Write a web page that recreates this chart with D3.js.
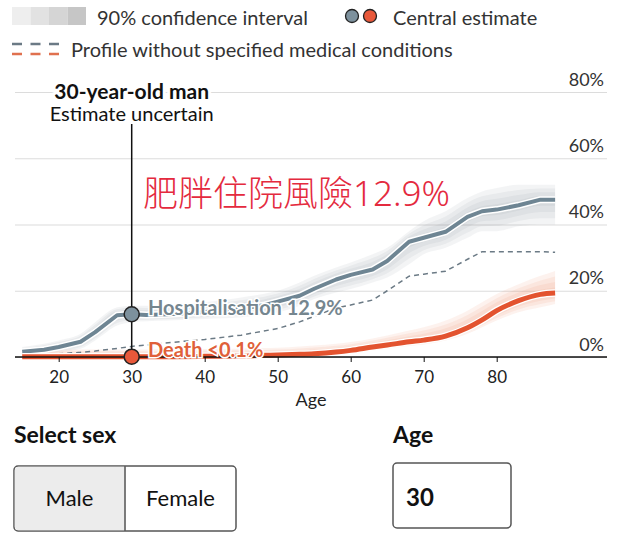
<!DOCTYPE html>
<html>
<head>
<meta charset="utf-8">
<script src="https://cdn.jsdelivr.net/npm/d3@7/dist/d3.min.js"></script>
<style>
  html, body { margin: 0; padding: 0; background: #fff; }
  svg { display: block; font-family: Lato, "Noto Sans", sans-serif; }
</style>
</head>
<body>
<svg id="chart" width="640" height="550"></svg>
<script>
// ---- data ----
const ages      = [15, 18, 20, 23, 25, 28, 30, 32, 35, 40, 45, 48, 50, 53, 55, 58, 60, 63, 65, 68, 70, 73, 76, 78, 80, 83, 86, 88];
const hosp      = [1.6, 2.2, 3.0, 4.6, 7.5, 12.6, 12.9, 12.7, 12.9, 13.6, 14.6, 15.6, 16.7, 18.5, 20.6, 23.4, 24.8, 26.4, 29.0, 34.8, 36.0, 37.8, 42.3, 44.0, 44.5, 45.8, 47.5, 47.5];
const hospLow   = [0.5, 1.0, 1.5, 2.5, 5.0, 9.5, 10.5, 10.8, 11.0, 11.5, 12.0, 12.8, 13.5, 15.5, 17.5, 19.5, 20.5, 22.5, 24.0, 28.0, 31.0, 33.0, 36.0, 38.0, 38.0, 39.5, 40.0, 40.0];
const hospHigh  = [3.0, 4.0, 5.0, 7.0, 10.5, 15.0, 15.5, 15.5, 15.5, 16.5, 18.0, 19.0, 20.0, 22.5, 24.5, 27.0, 28.5, 31.0, 33.0, 38.0, 41.0, 44.0, 48.0, 50.0, 51.0, 52.0, 52.0, 52.0];
const profile   = [0.8, 0.9, 1.0, 1.4, 1.8, 2.6, 3.2, 3.6, 4.3, 5.3, 6.6, 7.8, 8.6, 10.6, 12.3, 14.8, 15.7, 17.2, 20.0, 24.4, 25.0, 25.9, 29.5, 31.8, 31.8, 31.8, 31.8, 31.6];
const death     = [0.1, 0.1, 0.1, 0.1, 0.1, 0.1, 0.1, 0.1, 0.1, 0.2, 0.3, 0.5, 0.6, 0.8, 1.0, 1.5, 2.0, 3.0, 3.6, 4.6, 5.1, 6.3, 8.8, 11.2, 14.0, 17.0, 18.9, 19.3];
const deathLow  = [0, 0, 0, 0, 0, 0, 0, 0, 0, 0, 0.1, 0.2, 0.2, 0.4, 0.5, 0.9, 1.2, 2.0, 2.5, 3.3, 3.8, 5.0, 7.0, 9.0, 11.0, 13.5, 15.0, 16.0];
const deathHigh = [1.5, 2.0, 2.2, 2.3, 2.3, 2.3, 2.3, 2.3, 2.4, 2.4, 2.6, 2.7, 2.8, 3.2, 3.5, 4.0, 4.5, 5.6, 6.5, 8.0, 9.0, 11.0, 14.0, 16.5, 19.0, 22.0, 24.5, 26.0];
const xTicks = [20, 30, 40, 50, 60, 70, 80];
const yTicks = [0, 20, 40, 60, 80];
const selAge = 30;
const hospLabel = "Hospitalisation 12.9%";
const deathLabel = "Death <0.1%";
const headline = "肥胖住院風險12.9%";
const sexOptions = ["Male", "Female"];

// ---- layout ----
const svg = d3.select("#chart");
const left = 15, right = 607;
const x = d3.scaleLinear().domain([15, 88]).range([22.2, 555.1]);
const y = d3.scaleLinear().domain([0, 80]).range([357, 92]);

const GRAY = "#6e8593", ORANGE = "#e3532f";

// ---- legend ----
const leg = svg.append("g");
const legShades = ["#eeeeee", "#e2e2e2", "#d5d5d5", "#c6c6c6"];
leg.selectAll("rect.sh").data(legShades).join("rect")
  .attr("x", (d, i) => 12 + i * 18.5).attr("y", 7).attr("width", 18.5).attr("height", 18)
  .attr("fill", d => d);
leg.append("text").attr("x", 97).attr("y", 25).attr("font-size", 20).attr("fill", "#333")
  .text("90% confidence interval");
leg.append("circle").attr("cx", 352).attr("cy", 16).attr("r", 6.5).attr("fill", "#7d919d").attr("stroke", "#222").attr("stroke-width", 1.3);
leg.append("circle").attr("cx", 370).attr("cy", 16).attr("r", 6.5).attr("fill", "#e8583a").attr("stroke", "#222").attr("stroke-width", 1.3);
leg.append("text").attr("x", 393).attr("y", 25).attr("font-size", 20).attr("fill", "#333")
  .text("Central estimate");
[[44, "#6b7a85"], [54, "#e0714f"]].forEach(([yy, c]) => {
  leg.append("line").attr("x1", 12).attr("x2", 59).attr("y1", yy).attr("y2", yy)
    .attr("stroke", c).attr("stroke-width", 2.5).attr("stroke-dasharray", "10,8.5");
});
leg.append("text").attr("x", 71).attr("y", 57).attr("font-size", 20).attr("fill", "#333")
  .text("Profile without specified medical conditions");

// ---- grid + y labels ----
const gy = svg.append("g").attr("transform", `translate(${left},0)`)
  .call(d3.axisRight(y).tickValues(yTicks).tickSize(right - left).tickFormat(d => d + "%"));
gy.select(".domain").remove();
gy.selectAll(".tick line").attr("stroke", "#dcdcdc").attr("stroke-width", 1.2);
gy.selectAll(".tick text").attr("x", 604 - left).attr("dy", -7).attr("text-anchor", "end")
  .attr("font-size", 18).attr("fill", "#333").attr("font-family", "Lato, sans-serif");

// ---- bands ----
const data = ages.map((a, i) => ({a, h: hosp[i], hl: hospLow[i], hh: hospHigh[i], p: profile[i], d: death[i], dl: deathLow[i], dh: deathHigh[i]}));
const layers = [1, 0.75, 0.5, 0.25];
const bandG = svg.append("g");
layers.forEach(f => {
  bandG.append("path").datum(data)
    .attr("d", d3.area().curve(d3.curveMonotoneX).x(d => x(d.a))
      .y0(d => y(d.h + (d.hl - d.h) * f)).y1(d => y(d.h + (d.hh - d.h) * f)))
    .attr("fill", "#8595a0").attr("opacity", 0.1);
});
layers.forEach(f => {
  bandG.append("path").datum(data)
    .attr("d", d3.area().curve(d3.curveMonotoneX).x(d => x(d.a))
      .y0(d => y(d.d + (d.dl - d.d) * f)).y1(d => y(d.d + (d.dh - d.d) * f)))
    .attr("fill", "#ec8668").attr("opacity", 0.11);
});

// ---- profile dashed ----
svg.append("path").datum(data)
  .attr("d", d3.line().x(d => x(d.a)).y(d => y(d.p)))
  .attr("fill", "none").attr("stroke", "#6b7a85").attr("stroke-width", 1.5).attr("stroke-dasharray", "5,4");

// ---- central lines ----
const hLine = d3.line().x(d => x(d.a)).y(d => y(d.h));
svg.append("path").datum(data).attr("d", hLine).attr("fill", "none").attr("stroke", "#fff").attr("stroke-width", 7).attr("stroke-linejoin", "round");
svg.append("path").datum(data).attr("d", hLine).attr("fill", "none").attr("stroke", GRAY).attr("stroke-width", 4).attr("stroke-linejoin", "round");
const dLine = d3.line().curve(d3.curveMonotoneX).x(d => x(d.a)).y(d => y(d.d));
svg.append("path").datum(data).attr("d", dLine).attr("fill", "none").attr("stroke", "#fff").attr("stroke-width", 7.5);
svg.append("path").datum(data).attr("d", dLine).attr("fill", "none").attr("stroke", ORANGE).attr("stroke-width", 5);

// ---- x axis ----
svg.append("line").attr("x1", left).attr("x2", right).attr("y1", y(0)).attr("y2", y(0))
  .attr("stroke", "#111").attr("stroke-width", 1.5);
const gx = svg.append("g").attr("transform", `translate(0,${y(0)})`)
  .call(d3.axisBottom(x).tickValues(xTicks).tickSize(5).tickSizeOuter(0));
gx.select(".domain").remove();
gx.selectAll(".tick line").attr("stroke", "#111");
gx.selectAll(".tick text").attr("font-size", 17).attr("fill", "#222").attr("font-family", "Lato, sans-serif").attr("dy", "1.05em");
svg.append("text").attr("x", 311).attr("y", 406).attr("text-anchor", "middle").attr("font-size", 18).attr("fill", "#222").text("Age");

// ---- annotation ----
const i30 = ages.indexOf(selAge);
svg.append("line").attr("x1", x(selAge)).attr("x2", x(selAge)).attr("y1", 124).attr("y2", y(death[i30]))
  .attr("stroke", "#111").attr("stroke-width", 1.5);
svg.append("text").attr("x", x(selAge)).attr("y", 99).attr("text-anchor", "middle").attr("font-size", 21).attr("font-weight", 700)
  .attr("fill", "#111").attr("stroke", "#fff").attr("stroke-width", 6).attr("paint-order", "stroke").text("30-year-old man");
svg.append("text").attr("x", x(selAge)).attr("y", 121).attr("text-anchor", "middle").attr("font-size", 20)
  .attr("fill", "#111").text("Estimate uncertain");

svg.append("text").attr("x", 148).attr("y", 315).attr("font-size", 20).attr("font-weight", 700)
  .attr("fill", "#75868f").attr("stroke", "#fff").attr("stroke-width", 3).attr("paint-order", "stroke").text(hospLabel);
svg.append("text").attr("x", 148).attr("y", 357).attr("font-size", 20).attr("font-weight", 700)
  .attr("fill", "#e0603a").attr("stroke", "#fff").attr("stroke-width", 3).attr("paint-order", "stroke").text(deathLabel);

svg.append("circle").attr("cx", x(selAge)).attr("cy", y(hosp[i30])).attr("r", 7.5).attr("fill", "#7d919d").attr("stroke", "#222").attr("stroke-width", 1.5);
svg.append("circle").attr("cx", x(selAge)).attr("cy", y(death[i30])).attr("r", 7.5).attr("fill", "#e8583a").attr("stroke", "#222").attr("stroke-width", 1.5);

svg.append("text").attr("x", 143).attr("y", 206).attr("font-size", 35).attr("font-weight", 300).attr("fill", "#e42a3e")
  .attr("font-family", "'Noto Sans', 'Noto Sans CJK TC', 'Noto Sans CJK JP', sans-serif").text(headline);

// ---- controls ----
svg.append("text").attr("x", 14).attr("y", 443).attr("font-size", 23).attr("font-weight", 700).attr("fill", "#111").text("Select sex");
svg.append("text").attr("x", 393).attr("y", 443).attr("font-size", 23).attr("font-weight", 700).attr("fill", "#111").text("Age");
const btnX = [14, 125, 236];
svg.append("rect").attr("x", btnX[0]).attr("y", 466).attr("width", btnX[2] - btnX[0]).attr("height", 65).attr("rx", 4)
  .attr("fill", "#fff").attr("stroke", "#555").attr("stroke-width", 1.5);
svg.append("path").attr("d", `M${btnX[1]},466.75 H${btnX[0] + 4} a4,4 0 0 0 -4,4 V526.25 a4,4 0 0 0 4,4 H${btnX[1]} Z`)
  .attr("fill", "#ececec").attr("stroke", "none").attr("transform", "translate(0.75,0)");
svg.append("line").attr("x1", btnX[1]).attr("x2", btnX[1]).attr("y1", 466).attr("y2", 531).attr("stroke", "#555").attr("stroke-width", 1.5);
svg.selectAll("text.opt").data(sexOptions).join("text").attr("class", "opt")
  .attr("x", (d, i) => (btnX[i] + btnX[i + 1]) / 2).attr("y", 506).attr("text-anchor", "middle")
  .attr("font-size", 22).attr("fill", "#111").text(d => d);
svg.append("rect").attr("x", 393).attr("y", 463).attr("width", 118).attr("height", 65).attr("rx", 4)
  .attr("fill", "#fff").attr("stroke", "#555").attr("stroke-width", 1.5);
svg.append("text").attr("x", 406).attr("y", 506).attr("font-size", 24).attr("font-weight", 700).attr("fill", "#111").text(String(selAge));
</script>
</body>
</html>
